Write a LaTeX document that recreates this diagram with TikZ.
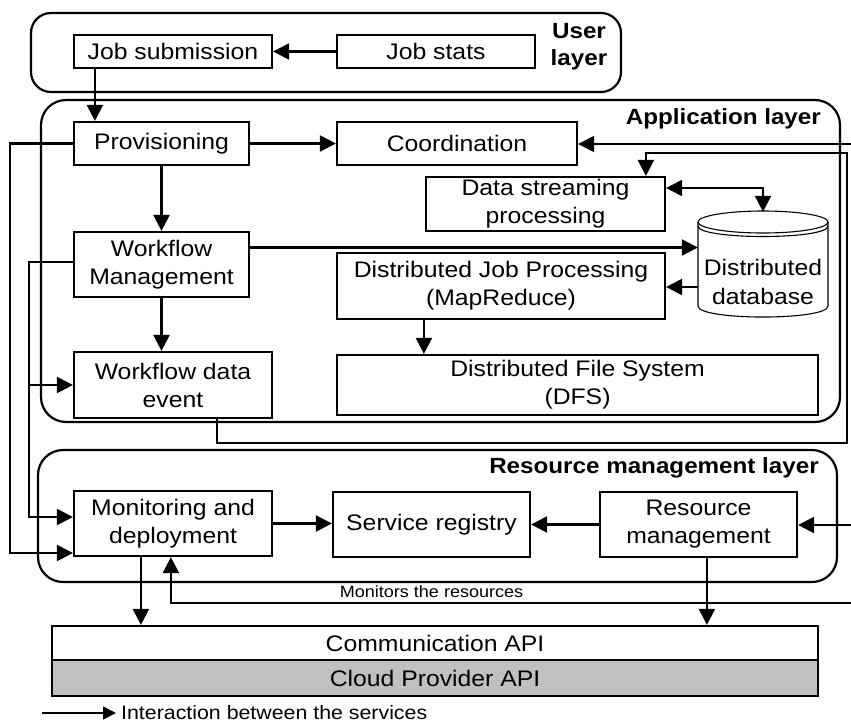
\documentclass[tikz,border=0pt]{standalone}
\usepackage{fontspec}
\setmainfont{Liberation Sans}[FakeStretch=1.1]
\usetikzlibrary{arrows.meta,calc}
\begin{document}
\begin{tikzpicture}[x=1pt,y=-1pt,
  every node/.style={inner sep=0pt},
  box/.style args={#1/#2}{draw, line width=2.2pt, minimum width=#1pt, minimum height=#2pt, align=center, font=\fontsize{22.5}{28}\selectfont},
  layerbox/.style={draw, line width=2.2pt, rounded corners=#1pt},
  arr/.style={line width=2.2pt, -{Triangle[length=16pt,width=16pt]}},
  arrboth/.style={line width=2.2pt, {Triangle[length=16pt,width=16pt]}-{Triangle[length=16pt,width=16pt]}},
  lbl/.style={font=\bfseries\fontsize{22}{27}\selectfont, align=center}]
\fill[white] (0,0) rectangle (851,726);
\useasboundingbox (0,0) rectangle (851,726);

% layers
\draw[layerbox=20] (31,13) rectangle (621,92);
\draw[layerbox=25] (41,100) rectangle (840,422);
\draw[layerbox=25] (38,450) rectangle (837,582);

\node[lbl] (ulabel) at (579,46.5) {User\\layer};
\node[lbl, anchor=east] (alabel) at (821,119) {Application layer};
\node[lbl, anchor=east] (rlabel) at (819,468) {Resource management layer};

% boxes
\node[box=198/33] (jobsub) at (173,51.5) {Job submission};
\node[box=198/33] (jobstats) at (436,51.5) {Job stats};
\node[box=175/43] (prov) at (161.5,143.5) {Provisioning};
\node[box=240/43] (coord) at (457,143.5) {Coordination};
\node[box=239/54] (dsp) at (545.5,204) {Data streaming\\processing};
\node[box=175/65] (wm) at (161.5,264.5) {Workflow\\Management};
\node[box=328/66] (djp) at (501,286) {Distributed Job Processing\\(MapReduce)};
\node[box=198/66] (wde) at (173,385) {Workflow data\\event};
\node[box=481/60] (dfs) at (577.5,385) {Distributed File System\\(DFS)};
\node[box=198/65] (mon) at (173,523.5) {Monitoring and\\deployment};
\node[box=197/65] (sr) at (431.5,524.5) {Service registry};
\node[box=197/65] (rm) at (698.5,524.5) {Resource\\management};
\node[box=766/34] (comm) at (435,643) {Communication API};
\node[box=766/36, fill={rgb,255:red,192;green,192;blue,192}] (cloud) at (435,678) {Cloud Provider API};

% database cylinder
\filldraw[fill=white, line width=1.1pt] (698,222) -- (698,306) .. controls (698,320.7) and (828,320.7) .. (828,306) -- (828,222);
\draw[line width=1.1pt, fill=white] (763,222) ellipse [x radius=65, y radius=11];
\draw[line width=1.1pt] (698,226) .. controls (698,240) and (828,240) .. (828,226);
\node[minimum width=130pt, minimum height=105pt] (db) at (763,264.5) {};
\node[font=\fontsize{22.5}{29}\selectfont, align=center] (dbtext) at (763,282) {Distributed\\database};

% helper coordinates
\coordinate (E1) at (851,144);
\coordinate (E2) at (851,525);
\coordinate (E3) at (851,603);
\coordinate (R1) at (847,443);
\coordinate (R2) at (847,153);
\coordinate (LA) at (10,0);
\coordinate (LB) at (29,0);
\coordinate (js) at ([xshift=22pt]jobsub.south west);
\coordinate (wme) at ([yshift=17pt]wm.east);
\coordinate (dbw) at ([yshift=-22.5pt]db.west);
\coordinate (dse) at ([yshift=16pt]dsp.east);
\coordinate (djs) at ([xshift=88pt]djp.south west);
\coordinate (wds) at ([xshift=144pt]wde.south west);
\coordinate (dsn) at ([xshift=221pt]dsp.north west);
\coordinate (mons) at ([xshift=68pt]mon.south west);
\coordinate (monr) at ([xshift=98pt]mon.south west);
\coordinate (rms) at ([xshift=108pt]rm.south west);
\coordinate (wmw) at ([yshift=2.5pt]wm.west);
\coordinate (mon1) at ([yshift=6.5pt]mon.west);
\coordinate (mon2) at ([yshift=-29.5pt]mon.west);

% connectors
\draw[arr] (jobstats.west) -- (jobsub.east);
\draw[arr] (js) -- (js |- prov.north);
\draw[arr] (prov.east) -- (coord.west);
\draw[arr] (prov.south) -- (wm.north);
\draw[arr] (wm.south) -- (wm.south |- wde.north);
\draw[arr] (prov.west) -- (prov.west -| LA) |- (mon2);
\draw[arr] (wmw) -- (wmw -| LB) |- (mon1);
\draw[arr] (wmw -| LB) |- (wde.west);
\draw[arr] (wme) -- (wme -| db.west);
\draw[arr] (dbw) -- (dbw -| djp.east);
\draw[arrboth] (dse) -| (db.north);
\draw[arr] (djs) -- (djs |- dfs.north);
\draw[arr] (wds) |- (R1) -- (R2) -| (dsn);
\draw[arr] (E1) -- (E1 -| coord.east);
\draw[arr] (E2) -- (E2 -| rm.east);
\draw[arr] (mon.east) -- (mon.east -| sr.west);
\draw[arr] (rm.west) -- (sr.east);
\draw[arr] (mons) -- (mons |- comm.north);
\draw[arr] (rms) -- (rms |- comm.north);
\draw[arr] (E3) -| (monr);
\node[font=\fontsize{16.4}{20}\selectfont] (mlabel) at (431.5,592) {Monitors the resources};

% legend
\coordinate (L0) at (42,713);
\coordinate (L1) at (116,713);
\draw[line width=1.6pt, -{Triangle[length=13pt,width=13pt]}] (L0) -- (L1);
\node[font=\fontsize{19.4}{23}\selectfont, anchor=west] (legtext) at (121,713) {Interaction between the services};
\end{tikzpicture}
\end{document}
